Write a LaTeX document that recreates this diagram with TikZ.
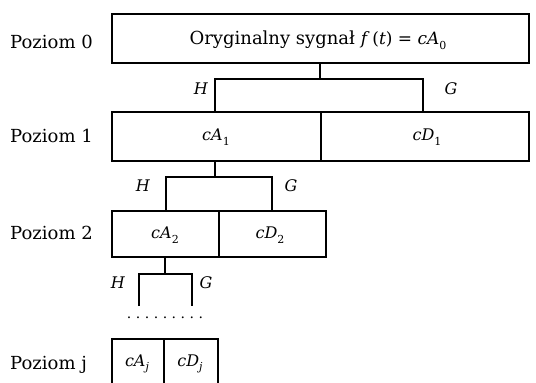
\documentclass[tikz,border=0pt]{standalone}
\usepackage{fontspec}
\setmainfont{DejaVu Serif}
\newcommand{\sbs}[1]{\raisebox{-0.28em}{\fontsize{11}{13}\selectfont #1}}
\begin{document}
\begin{tikzpicture}[x=1pt,y=-1pt,
  bx/.style={draw,line width=2.4pt,inner sep=0pt,anchor=north west},
  ln/.style={line width=2.4pt},
  lvl/.style={font=\fontsize{18}{21}\selectfont,anchor=west,inner sep=0pt},
  lab/.style={font=\fontsize{16}{19}\selectfont,inner sep=0pt}]
\useasboundingbox (0,0) rectangle (536,383);
\begin{scope}
\clip (0,0) rectangle (536,383);
% level labels
\node[lvl] (l0) at (10,42) {Poziom 0};
\node[lvl] (l1) at (10,136) {Poziom 1};
\node[lvl] (l2) at (10,233) {Poziom 2};
\node[lvl] (lj) at (10,365) {Poziom j};
% level 0
\node[bx,minimum width=417pt,minimum height=49pt] (b0) at (111,13) {};
\node[lab,font=\fontsize{18}{21}\selectfont] (t0) at (318,40) {Oryginalny sygnał {\fontsize{17}{20}\selectfont\textit{f}\,(\textit{t}) = \textit{cA}\sbs{0}}};
% level 1
\node[bx,minimum width=209pt,minimum height=49pt] (a1) at (111,111) {};
\node[bx,minimum width=208pt,minimum height=49pt] (d1) at (320,111) {};
\node[lab] (ta1) at (216,137) {\textit{cA}\sbs{1}};
\node[lab] (td1) at (427,137) {\textit{cD}\sbs{1}};
\coordinate (s0) at (320,79);
\coordinate (h0) at (215,79);
\coordinate (g0) at (423,79);
\draw[ln] (b0.south -| s0) -- (s0);
\draw[ln] (a1.north -| h0) -- (h0) -- (g0) -- (d1.north -| g0);
\node[lab] (H0) at (201,89) {\textit{H}};
\node[lab] (G0) at (451,89) {\textit{G}};
% level 2
\node[bx,minimum width=107pt,minimum height=46pt] (a2) at (111,210) {};
\node[bx,minimum width=107pt,minimum height=46pt] (d2) at (218,210) {};
\node[lab] (ta2) at (165,235) {\textit{cA}\sbs{2}};
\node[lab] (td2) at (270,235) {\textit{cD}\sbs{2}};
\coordinate (s1) at (215,177);
\coordinate (h1) at (166,177);
\coordinate (g1) at (272,177);
\draw[ln] (a1.south -| s1) -- (s1);
\draw[ln] (a2.north -| h1) -- (h1) -- (g1) -- (d2.north -| g1);
\node[lab] (H1) at (143,186) {\textit{H}};
\node[lab] (G1) at (291,186) {\textit{G}};
% level 2 -> dots
\coordinate (s2) at (165,274);
\coordinate (h2) at (139,274);
\coordinate (g2) at (192,274);
\coordinate (eh) at (139,306);
\coordinate (eg) at (192,306);
\draw[ln] (a2.south -| s2) -- (s2);
\draw[ln] (eh) -- (h2) -- (g2) -- (eg);
\node[lab] (H2) at (118,283) {\textit{H}};
\node[lab] (G2) at (206,283) {\textit{G}};
\node[inner sep=0pt,font=\fontsize{14}{17}\selectfont] (dots) at (165,318) {.\hspace{4.5pt}.\hspace{4.5pt}.\hspace{4.5pt}.\hspace{4.5pt}.\hspace{4.5pt}.\hspace{4.5pt}.\hspace{4.5pt}.\hspace{4.5pt}.};
% level j
\node[bx,minimum width=52pt,minimum height=60pt] (aj) at (111,338) {};
\node[bx,minimum width=54pt,minimum height=60pt] (dj) at (163,338) {};
\node[lab] (taj) at (137,364) {\textit{cA}\sbs{\textit{j}}};
\node[lab] (tdj) at (190,364) {\textit{cD}\sbs{\textit{j}}};
\end{scope}
\end{tikzpicture}
\end{document}
